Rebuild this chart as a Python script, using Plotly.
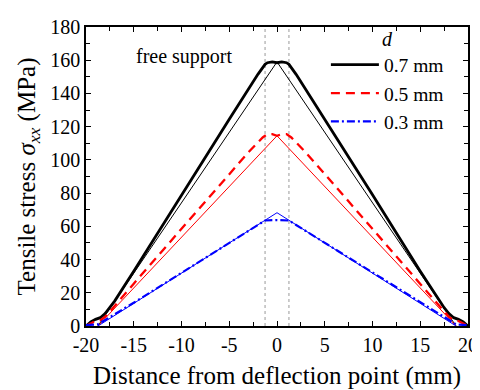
import plotly.graph_objects as go

# ---- data ----
x_fem_07 = [-20, -19.5, -19, -18.5, -18, -17.5, -17, -15, -10, -5, -2, -1.25, -1, -0.5, 0,
            0.5, 1, 1.25, 2, 5, 10, 15, 17, 17.5, 18, 18.5, 19, 19.5, 20]
y_fem_07 = [0, 2.5, 4, 5, 7.5, 11, 15, 33, 79, 124.5, 151.5, 157.5, 158.5, 159, 158.5,
            159, 158.5, 157.5, 151.5, 124.5, 79, 33, 15, 11, 7.5, 5, 4, 2.5, 0]

x_fem_05 = [-20, -19.5, -19, -18.5, -18, -17, -15, -10, -5, -3, -2, -1.5, -1, -0.5, 0,
            0.5, 1, 1.5, 2, 3, 5, 10, 15, 17, 18, 18.5, 19, 19.5, 20]
y_fem_05 = [0, 1.5, 3, 3.5, 5.5, 12, 25.5, 58.5, 91.5, 104.5, 110.5, 113.5, 115.5, 115.5, 114.5,
            115.5, 115.5, 113.5, 110.5, 104.5, 91.5, 58.5, 25.5, 12, 5.5, 3.5, 3, 1.5, 0]

x_fem_03 = [-20, -19, -18.75, -15, -10, -5, -2, -1.25, 0, 1.25, 2, 5, 10, 15, 18.75, 19, 20]
y_fem_03 = [0.5, 0.8, 1, 14, 32, 50, 60.8, 63.5, 63.8, 63.5, 60.8, 50, 32, 14, 1, 0.8, 0.5]

x_theory = [-18.75, 0, 18.75]
y_theory_07 = [0, 159, 0]
y_theory_05 = [0, 114.5, 0]
y_theory_03 = [0, 68.2, 0]

support_x = [-1.25, 1.25]
labels = ["0.7 mm", "0.5 mm", "0.3 mm"]
x_ticks = [-20, -15, -10, -5, 0, 5, 10, 15, 20]
y_ticks = [0, 20, 40, 60, 80, 100, 120, 140, 160, 180]

FONT = "Liberation Serif"

fig = go.Figure()

# theory (thin) lines
for yy, col in [(y_theory_07, "black"), (y_theory_05, "red"), (y_theory_03, "blue")]:
    fig.add_trace(go.Scatter(x=x_theory, y=yy, mode="lines", showlegend=False,
                             line=dict(color=col, width=1)))

# FEM lines
fig.add_trace(go.Scatter(x=x_fem_07, y=y_fem_07, mode="lines", name=labels[0],
                         line=dict(color="black", width=2.8)))
fig.add_trace(go.Scatter(x=x_fem_05, y=y_fem_05, mode="lines", name=labels[1],
                         line=dict(color="red", width=2.3, dash="9px,6px")))
fig.add_trace(go.Scatter(x=x_fem_03, y=y_fem_03, mode="lines", name=labels[2],
                         line=dict(color="blue", width=2.2, dash="8px,3px,2px,3px")))

for xs in support_x:
    fig.add_shape(type="line", xref="x", yref="y", x0=xs, x1=xs, y0=0, y1=180,
                  line=dict(color="#9a9a9a", width=1, dash="dot"), layer="below")

fig.add_annotation(x=-9.7, y=162, xref="x", yref="y", text="free support",
                   showarrow=False, font=dict(family=FONT, size=20, color="black"))

axis_common = dict(showline=True, linecolor="black", linewidth=1.5, mirror="ticks",
                   ticks="inside", ticklen=5, tickwidth=1.2, tickcolor="black",
                   showgrid=False, zeroline=False, automargin=False,
                   tickfont=dict(family=FONT, size=20, color="black"))

fig.update_xaxes(range=[-20, 20], tickvals=x_ticks,
                 ticktext=[str(v) for v in x_ticks],
                 minor=dict(ticks="inside", ticklen=4, dtick=2.5, tickcolor="black", tickwidth=1.2),
                 title=dict(text="Distance from deflection point (mm)",
                            font=dict(family=FONT, size=25, color="black"), standoff=12),
                 **axis_common)
fig.update_yaxes(range=[0, 180], tickvals=y_ticks,
                 minor=dict(ticks="inside", ticklen=4, dtick=10, tickcolor="black", tickwidth=1.2),
                 title=dict(text="Tensile stress <i>σ</i><sub><i>xx</i></sub> (MPa)",
                            font=dict(family=FONT, size=25, color="black"), standoff=8),
                 **axis_common)

# page body adds an 8px offset; figure is sized to fill the rest of the 480x390 window
fig.update_layout(
    width=472, height=382,
    margin=dict(l=78, r=12, t=12, b=64),
    paper_bgcolor="white", plot_bgcolor="white",
    legend=dict(x=0.628, y=1.025, xanchor="left", yanchor="top",
                bgcolor="rgba(0,0,0,0)", borderwidth=0, itemwidth=48,
                font=dict(family=FONT, size=19.5, color="black"),
                title=dict(text="<i>d</i>", side="top center",
                           font=dict(family=FONT, size=20, color="black")),
                tracegroupgap=0),
    showlegend=True,
)

fig.write_html("out.html")
